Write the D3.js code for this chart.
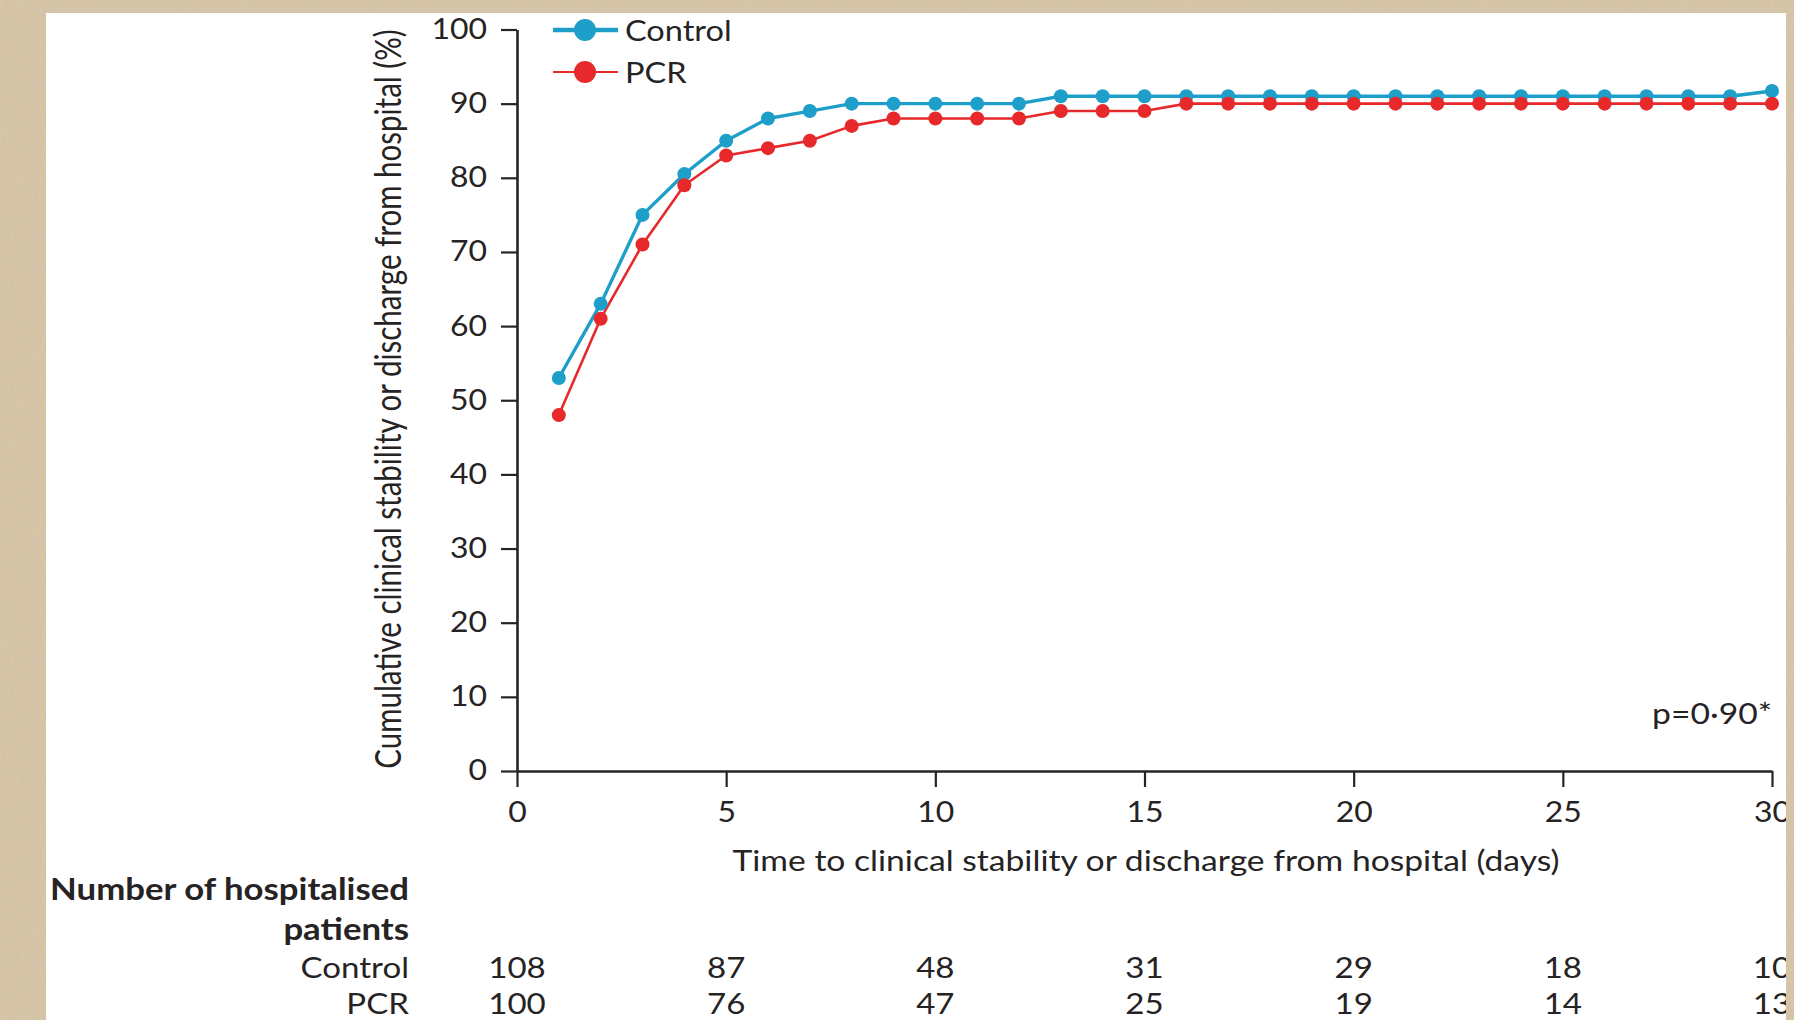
<!DOCTYPE html>
<html>
<head>
<meta charset="utf-8">
<script src="https://cdn.jsdelivr.net/npm/d3@7"></script>
<style>
  html, body { margin: 0; padding: 0; background: #d7c6a8; }
  svg { display: block; }
  text { font-family: Lato, "Open Sans", sans-serif; fill: #262324; }
</style>
</head>
<body>
<svg id="chart" width="1794" height="1020"></svg>
<script>
// Cumulative clinical stability or discharge, by day of follow-up
const days = [1, 2, 3, 4, 5, 6, 7, 8, 9, 10, 11, 12, 13, 14, 15,
              16, 17, 18, 19, 20, 21, 22, 23, 24, 25, 26, 27, 28, 29, 30];
const controlPct = [53, 63, 75, 80.5, 85, 88, 89, 90, 90, 90, 90, 90, 91, 91, 91,
                    91, 91, 91, 91, 91, 91, 91, 91, 91, 91, 91, 91, 91, 91, 91.7];
const pcrPct = [48, 61, 71, 79, 83, 84, 85, 87, 88, 88, 88, 88, 89, 89, 89,
                90, 90, 90, 90, 90, 90, 90, 90, 90, 90, 90, 90, 90, 90, 90];

const xTicks = [0, 5, 10, 15, 20, 25, 30];
const yTicks = [0, 10, 20, 30, 40, 50, 60, 70, 80, 90, 100];

// Number at risk, listed at each x tick
const riskGroups = ["Control", "PCR"];
const controlAtRisk = [108, 87, 48, 31, 29, 18, 10];
const pcrAtRisk = [100, 76, 47, 25, 19, 14, 13];

const pValueLabel = "p=0·90*";

const series = [
  { name: "Control", values: controlPct, color: "#1e9fc9", width: 3.4, legendWidth: 4.5 },
  { name: "PCR", values: pcrPct, color: "#e8292b", width: 2.6, legendWidth: 2 }
];

const W = 1794, H = 1020;
const panel = { x: 46, y: 13, w: 1740, h: 1007 };
const x = d3.scaleLinear().domain([0, 30]).range([517, 1772]);
const y = d3.scaleLinear().domain([0, 100]).range([771, 29.5]);
const ink = "#262324";
const SX = 1.14; // the typeface is set slightly wide

const svg = d3.select("#chart");

// Paper texture around the figure
const defs = svg.append("defs");
const grain = defs.append("filter").attr("id", "grain")
  .attr("x", 0).attr("y", 0).attr("width", "100%").attr("height", "100%");
grain.append("feTurbulence").attr("type", "fractalNoise")
  .attr("baseFrequency", "0.35 0.08").attr("numOctaves", 2).attr("seed", 4).attr("result", "n");
grain.append("feColorMatrix").attr("in", "n").attr("type", "matrix")
  .attr("values", "0 0 0 0 0.55  0 0 0 0 0.45  0 0 0 0 0.33  0 0 0 0.22 0");
defs.append("clipPath").attr("id", "panelClip")
  .append("rect").attr("x", panel.x).attr("y", panel.y).attr("width", panel.w).attr("height", panel.h);

svg.append("rect").attr("width", W).attr("height", H).attr("fill", "#d7c6a8");
svg.append("rect").attr("width", W).attr("height", H).attr("filter", "url(#grain)");
svg.append("rect").attr("x", panel.x).attr("y", panel.y)
  .attr("width", panel.w).attr("height", panel.h).attr("fill", "#ffffff");

const g = svg.append("g").attr("clip-path", "url(#panelClip)");

// Horizontal text placed with a wide set
function label(parent, tx, ty, str, size, anchor, weight) {
  return parent.append("text")
    .attr("transform", `translate(${tx},${ty}) scale(${SX},1)`)
    .attr("text-anchor", anchor || "start")
    .attr("dominant-baseline", "central")
    .style("font-size", size + "px")
    .style("font-weight", weight || 400)
    .text(str);
}

// Axes
const yAxis = d3.axisLeft(y).tickValues(yTicks).tickSize(16).tickSizeOuter(0).tickPadding(14);
const xAxis = d3.axisBottom(x).tickValues(xTicks).tickSize(16).tickSizeOuter(0).tickPadding(10);

function styleAxis(sel) {
  sel.select(".domain").attr("stroke", ink).attr("stroke-width", 2.6);
  sel.selectAll(".tick line").attr("stroke", ink).attr("stroke-width", 2.2);
  sel.selectAll(".tick text")
    .attr("fill", ink)
    .style("font-size", "28px")
    .style("font-family", "Lato, 'Open Sans', sans-serif")
    .each(function () {
      const t = d3.select(this);
      const tx = +t.attr("x") || 0;
      t.attr("x", 0).attr("transform", `translate(${tx},0) scale(${SX},1)`);
    });
}

g.append("g").attr("transform", `translate(0,${y(0)})`).call(xAxis).call(styleAxis)
  .selectAll(".tick text").attr("dy", "0.9em");
g.append("g").attr("transform", `translate(${x(0)},0)`).call(yAxis).call(styleAxis);

// Axis titles
label(g, 1146, 860, "Time to clinical stability or discharge from hospital (days)", 29.5, "middle");
g.append("text")
  .attr("transform", `translate(401,${(y(0) + 27) / 2}) rotate(-90) scale(1,1.22)`)
  .attr("text-anchor", "middle")
  .style("font-size", "29.5px")
  .text("Cumulative clinical stability or discharge from hospital (%)");

// Curves with point markers
const line = d3.line().x((d, i) => x(days[i])).y(d => y(d));
series.forEach(s => {
  g.append("path").datum(s.values)
    .attr("fill", "none").attr("stroke", s.color).attr("stroke-width", s.width)
    .attr("stroke-linejoin", "round").attr("d", line);
});
series.forEach(s => {
  g.append("g").selectAll("circle").data(s.values).join("circle")
    .attr("cx", (d, i) => x(days[i])).attr("cy", d => y(d)).attr("r", 7)
    .attr("fill", s.color);
});

// Legend
const legend = g.append("g");
series.forEach((s, i) => {
  const ly = 30 + i * 42;
  legend.append("line").attr("x1", 553).attr("x2", 618).attr("y1", ly).attr("y2", ly)
    .attr("stroke", s.color).attr("stroke-width", s.legendWidth);
  legend.append("circle").attr("cx", 585).attr("cy", ly).attr("r", 11).attr("fill", s.color);
  label(legend, 625, ly, s.name, 28.5, "start");
});

// p value
label(g, 1772, 713, pValueLabel, 29.5, "end");

// Number-at-risk table
const risk = g.append("g");
label(risk, 409, 888, "Number of hospitalised", 30.5, "end", 700);
label(risk, 409, 928, "patients", 30.5, "end", 700);
const riskRows = [controlAtRisk, pcrAtRisk];
riskGroups.forEach((name, r) => {
  const ry = 967 + r * 36;
  label(risk, 409, ry, name, 29, "end");
  riskRows[r].forEach((v, i) => label(risk, x(xTicks[i]), ry, v, 29, "middle"));
});
</script>
</body>
</html>
